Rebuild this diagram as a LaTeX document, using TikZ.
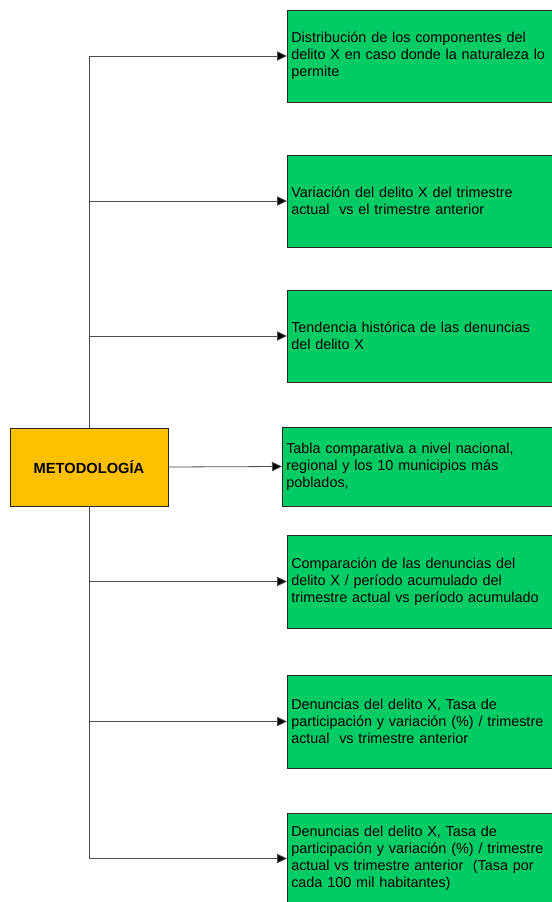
\documentclass[tikz,border=0pt]{standalone}
\usepackage{fontspec}
\setmainfont{Liberation Sans}
\usetikzlibrary{arrows.meta,positioning}
\definecolor{metodofill}{HTML}{FFC000}
\definecolor{itemfill}{HTML}{00CC66}

\begin{document}
\begin{tikzpicture}[x=0.75pt, y=-0.75pt, font=\fontsize{10.8}{12.75}\selectfont,
  mainbox/.style={draw=black!85, fill=metodofill, minimum width=118.5pt, minimum height=58.5pt, font=\fontsize{11}{12}\selectfont\bfseries},
  item/.style={draw=black!85, fill=itemfill, anchor=west, text width=197pt, inner xsep=3pt, minimum height=69pt, align=left},
  arrow/.style={-{Triangle[length=7.5pt, width=7pt, fill=black]}, draw=black!70, line width=0.6pt}]
  \useasboundingbox (0,0) rectangle (552,902);
  \node[mainbox] (metodo) at (89,467) {METODOLOG\'IA};
  \node[item] (dist) at (287,56) {Distribución de los componentes del\\delito X en caso donde la naturaleza lo\\permite};
  \node[item] (var) at (287,201) {Variación del delito X del trimestre\\actual\ \ vs el trimestre anterior};
  \node[item] (tend) at (287,336) {Tendencia histórica de las denuncias\\del delito X};
  \node[item, text width=200.5pt, minimum height=59pt] (tabla) at (282,466.5) {Tabla comparativa a nivel nacional,\\regional y los 10 municipios más\\poblados,};
  \node[item, minimum height=70pt] (comp) at (287,581.5) {Comparación de las denuncias del\\delito X / período acumulado del\\trimestre actual vs período acumulado};
  \node[item, minimum height=70pt] (tasa) at (287,721.5) {Denuncias del delito X, Tasa de\\participación y variación (\%) / trimestre\\actual\ \ vs trimestre anterior};
  \node[item, minimum height=68pt] (tasamil) at (287,858.5) {Denuncias del delito X, Tasa de\\participación y variación (\%) / trimestre\\actual vs trimestre anterior\ \ (Tasa por\\cada 100 mil habitantes)};
  % ramas hacia arriba y abajo
  \draw[arrow] (metodo.north) |- (dist.west);
  \draw[arrow] (metodo.north) |- (var.west);
  \draw[arrow] (metodo.north) |- (tend.west);
  \draw[arrow] (metodo.east) -- (tabla.west);
  \draw[arrow] (metodo.south) |- (comp.west);
  \draw[arrow] (metodo.south) |- (tasa.west);
  \draw[arrow] (metodo.south) |- (tasamil.west);
\end{tikzpicture}
\end{document}
